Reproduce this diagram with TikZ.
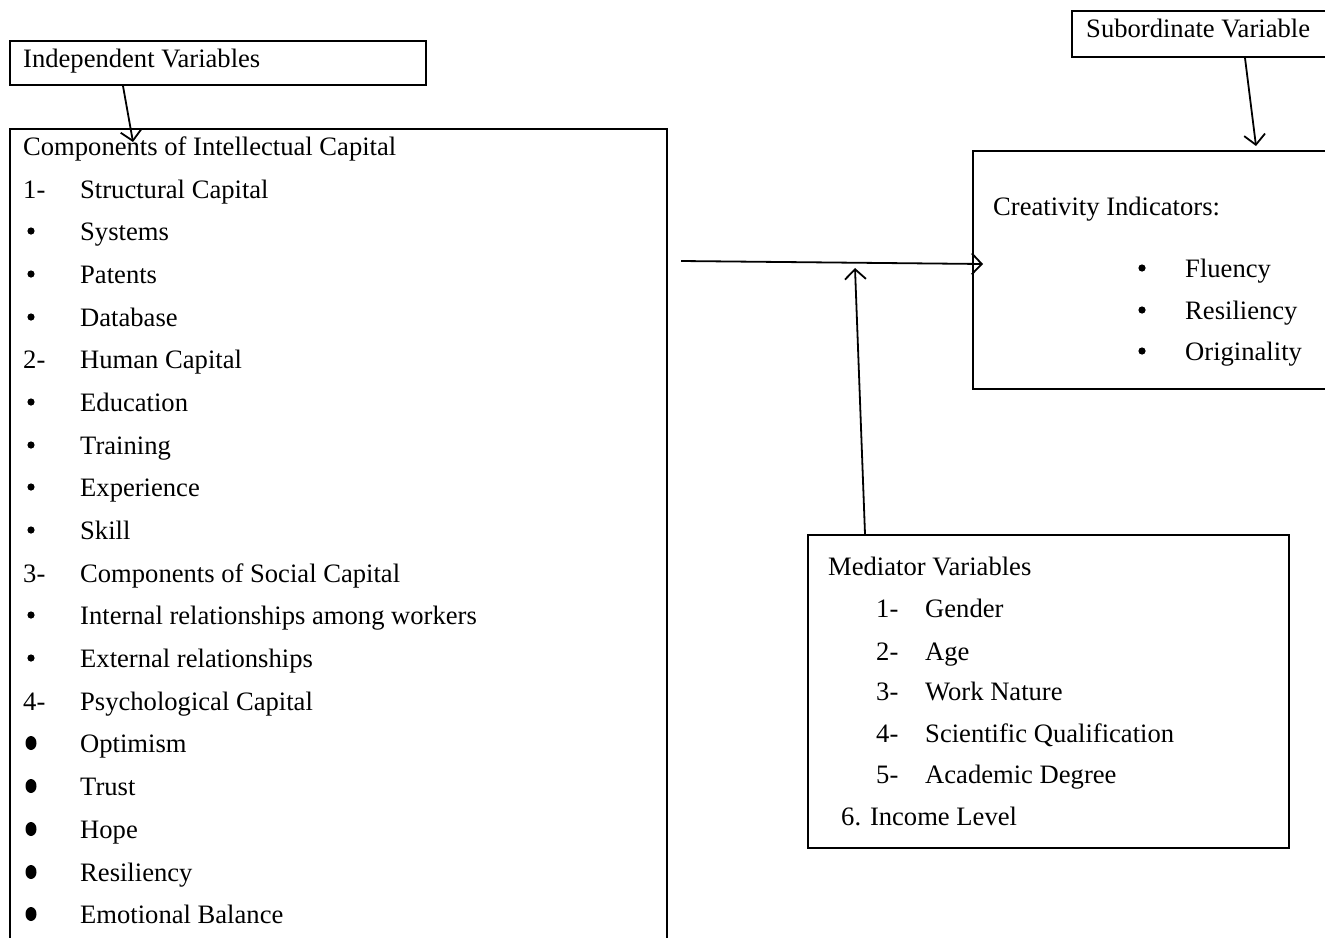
\documentclass[tikz,border=0pt]{standalone}
\usepackage{fontspec}
\setmainfont{Liberation Serif}
\usetikzlibrary{arrows.meta}
\begin{document}
\begin{tikzpicture}[x=1pt,y=-1pt,
  box/.style={draw=black,line width=1.8pt,anchor=north west,inner sep=0pt,minimum width=#1},
  txt/.style={anchor=base west,inner sep=0pt,font=\fontsize{26.6}{30}\selectfont},
  arr/.style={line width=1.8pt,-{Straight Barb[length=10pt,width=21pt,line width=1.8pt]}},
]
\useasboundingbox (0,0) rectangle (1325,937);
\clip (0,0) rectangle (1325,937);
% boxes
\node[box=416pt,minimum height=44pt] (ind) at (9,40) {};
\node[box=270pt,minimum height=46pt] (sub) at (1071,10) {};
\node[box=657pt,minimum height=830pt] (main) at (9,128) {};
\node[box=380pt,minimum height=238pt] (cre) at (972,150) {};
\node[box=481pt,minimum height=313pt] (med) at (807,534) {};
% texts
\node[txt] (tind) at (23,67) {Independent Variables};
\node[txt] (tsub) at (1086,37) {Subordinate Variable};
\node[txt] (tmain) at (23,155) {Components of Intellectual Capital};
\foreach \y/\lab/\t/\k in {
  198/1-/Structural Capital/n, 240//Systems/s, 283//Patents/s, 326//Database/s,
  368/2-/Human Capital/n, 411//Education/s, 454//Training/s, 496//Experience/s,
  539//Skill/s, 582/3-/Components of Social Capital/n,
  624//Internal relationships among workers/s, 667//External relationships/s,
  710/4-/Psychological Capital/n, 752//Optimism/b, 795//Trust/b, 838//Hope/b,
  881//Resiliency/b, 923//Emotional Balance/b}{
  \node[txt] (m\y) at (80,\y) {\t};
  \if n\k \node[txt] (n\y) at (23,\y) {\lab}; \fi
  \if s\k \fill (31,\y-9) circle (3.6pt); \fi
  \if b\k \fill (31,\y-9) ellipse (5.5pt and 7pt); \fi
}
\node[txt] (tcre) at (993,215) {Creativity Indicators:};
\foreach \y/\t in {277/Fluency,319/Resiliency,360/Originality}{
  \fill (1142,\y-9) circle (3.6pt);
  \node[txt] (c\y) at (1185,\y) {\t};
}
\node[txt] (tmed) at (828,575) {Mediator Variables};
\foreach \y/\n/\t in {617/1-/Gender,660/2-/Age,700/3-/Work Nature,742/4-/Scientific Qualification,783/5-/Academic Degree}{
  \node[txt] (dn\y) at (876,\y) {\n};
  \node[txt] (dt\y) at (925,\y) {\t};
}
\node[txt] (tinc) at (841,825) {6. Income Level};
% connectors
\coordinate (a1) at (123,86);
\coordinate (a1e) at (133,142);
\draw[arr] (a1) -- (a1e);
\coordinate (a2) at (1245,58);
\coordinate (a2e) at (1256,146);
\draw[arr] (a2) -- (a2e);
\coordinate (a3) at (681,261);
\coordinate (a3e) at (983,264);
\draw[arr] (a3) -- (a3e);
\coordinate (a4) at (865,534);
\coordinate (a4e) at (855,268);
\draw[arr] (a4) -- (a4e);
\end{tikzpicture}
\end{document}
